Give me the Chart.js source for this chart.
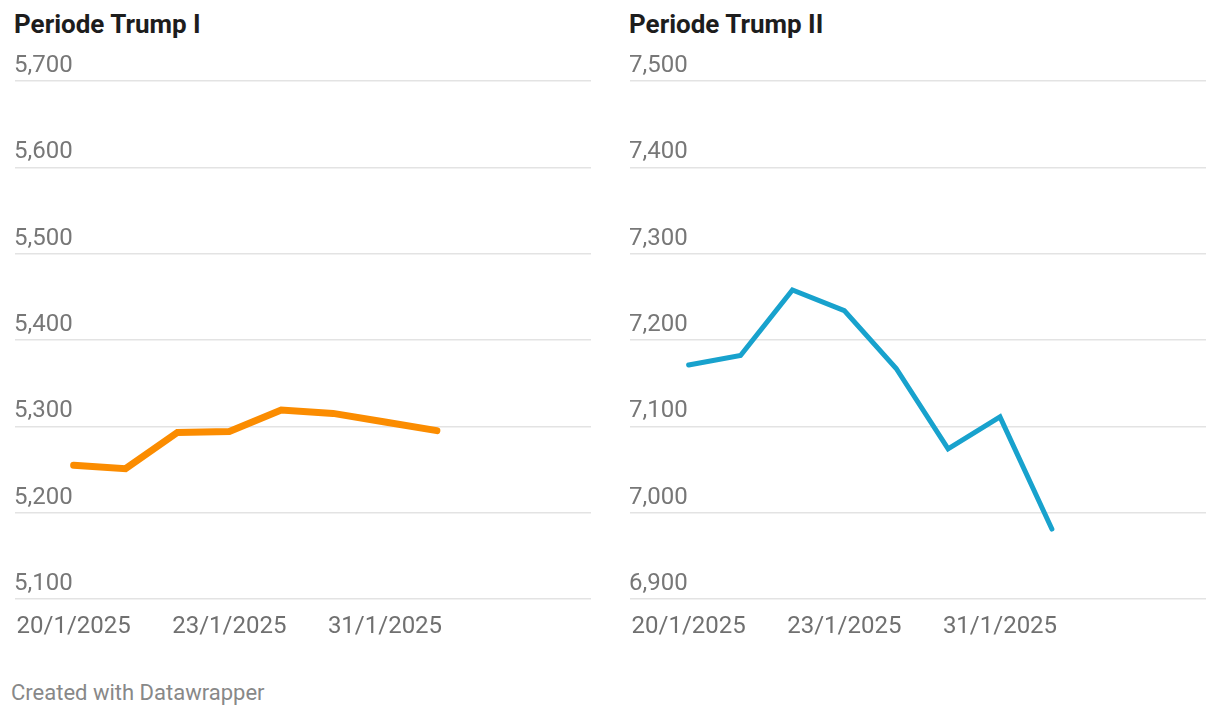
<!DOCTYPE html>
<html>
<head>
<meta charset="utf-8">
<script src="https://cdn.jsdelivr.net/npm/chart.js@4"></script>
<style>
  html, body { margin:0; padding:0; background:#fff; width:1220px; height:716px; overflow:hidden; font-family: Roboto, sans-serif; }
  .title { position:absolute; top:9px; font-family: Roboto, sans-serif; font-weight:700; font-size:26px; color:#1d1d1d; }
  .panel { position:absolute; top:0; width:576px; height:649px; }
  .footer { position:absolute; left:11px; top:680px; font-size:22px; color:#888; font-family: Roboto, sans-serif; }
</style>
</head>
<body>
<div class="title" style="left:14px">Periode Trump I</div>
<div class="title" style="left:629px">Periode Trump II</div>
<div class="panel" style="left:15px"><canvas id="c1"></canvas></div>
<div class="panel" style="left:630px"><canvas id="c2"></canvas></div>
<div class="footer">Created with Datawrapper</div>
<script>
const tickLabels = ['20/1/2025', '', '', '23/1/2025', '', '', '31/1/2025', ''];
const trump1 = [5255, 5251, 5293, 5294, 5319, 5315, 5305, 5295];
const trump2 = [7171, 7182, 7258, 7234, 7167, 7074, 7111, 6981];
const yTicks1 = [5100, 5200, 5300, 5400, 5500, 5600, 5700];
const yTicks2 = [6900, 7000, 7100, 7200, 7300, 7400, 7500];

function makeChart(id, values, yTicks, color, width) {
  const yMin = yTicks[0], yMax = yTicks[yTicks.length - 1];
  new Chart(document.getElementById(id), {
    type: 'line',
    data: {
      datasets: [{
        data: values.map((v, i) => ({ x: i, y: v })),
        borderColor: color,
        borderWidth: width,
        pointRadius: 0,
        borderCapStyle: 'round',
        borderJoinStyle: 'miter',
        tension: 0
      }]
    },
    options: {
      responsive: true,
      maintainAspectRatio: false,
      animation: false,
      events: [],
      layout: { padding: { top: 81, left: 0, right: 0, bottom: 0 } },
      plugins: { legend: { display: false }, tooltip: { enabled: false } },
      scales: {
        x: {
          type: 'linear',
          min: -1.13,
          max: 9.97,
          afterBuildTicks: (s) => { s.ticks = [0, 3, 6].map(v => ({ value: v })); },
          afterFit: (s) => { s.height = 50; s.paddingLeft = 0; s.paddingRight = 0; },
          grid: { display: false, drawTicks: false },
          border: { display: false },
          ticks: {
            autoSkip: false,
            maxRotation: 0,
            padding: 14,
            color: '#707070',
            font: { family: 'Roboto', size: 24 },
            callback: (v) => tickLabels[v] || ''
          }
        },
        y: {
          min: yMin,
          max: yMax,
          afterBuildTicks: (s) => { s.ticks = yTicks.map(v => ({ value: v })); },
          afterFit: (s) => { s.width = 0; },
          grid: { color: '#e3e3e3', lineWidth: 1.5, drawTicks: false },
          border: { display: false },
          ticks: {
            mirror: true,
            padding: -1,
            labelOffset: -15,
            color: '#777777',
            font: { family: 'Roboto', size: 24 },
            callback: (v) => v.toLocaleString('en-US')
          }
        }
      }
    }
  });
}
makeChart('c1', trump1, yTicks1, '#fb8c00', 7);
makeChart('c2', trump2, yTicks2, '#18a2cd', 5);
</script>
</body>
</html>
